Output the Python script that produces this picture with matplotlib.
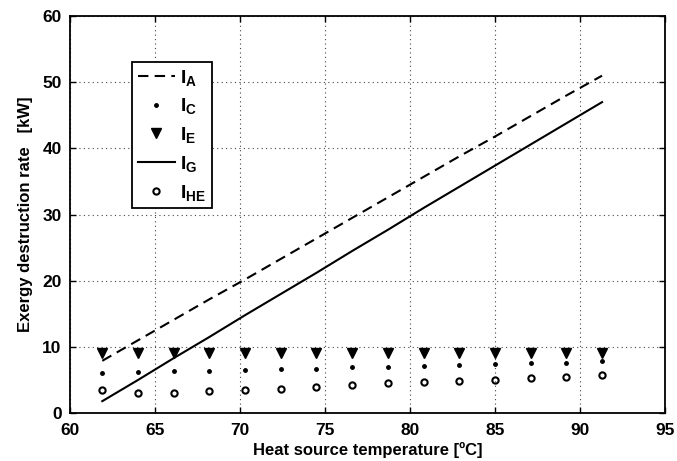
import matplotlib.pyplot as plt

plt.rcParams['font.family'] = 'Liberation Sans'
plt.rcParams['font.weight'] = 'bold'
plt.rcParams['mathtext.fontset'] = 'custom'
plt.rcParams['mathtext.bf'] = 'Liberation Sans:bold'
plt.rcParams['mathtext.rm'] = 'Liberation Sans:bold'

# heat source temperature [ºC]
temp = [61.9, 64.0, 66.1, 68.2, 70.3, 72.4, 74.5, 76.6, 78.7, 80.8, 82.9, 85.0, 87.1, 89.2, 91.3]

# exergy destruction rates [kW]
i_a = [7.9, 11.0, 14.1, 17.2, 20.2, 23.3, 26.4, 29.5, 32.6, 35.7, 38.8, 41.8, 44.9, 48.0, 51.0]
i_c = [6.1, 6.2, 6.3, 6.4, 6.5, 6.6, 6.7, 6.9, 7.0, 7.1, 7.2, 7.4, 7.5, 7.6, 7.8]
i_e = [9.1, 9.1, 9.1, 9.1, 9.1, 9.1, 9.1, 9.1, 9.1, 9.1, 9.1, 9.1, 9.1, 9.1, 9.1]
i_g = [1.8, 5.0, 8.3, 11.5, 14.8, 18.0, 21.2, 24.5, 27.7, 31.0, 34.2, 37.4, 40.6, 43.8, 47.0]
i_he = [3.5, 3.1, 3.1, 3.3, 3.5, 3.7, 4.0, 4.2, 4.5, 4.65, 4.85, 5.0, 5.25, 5.5, 5.75]

fig = plt.figure(figsize=(6.77, 4.61), dpi=100)
ax = fig.add_axes([0.1034, 0.104, 0.8788, 0.861])

ax.plot(temp, i_a, color='black', linestyle='--', linewidth=1.5, dashes=(5, 3),
        label=r'$\mathbf{I_A}$')
ax.plot(temp, i_c, color='black', linestyle='none', marker='.', markersize=5,
        label=r'$\mathbf{I_C}$')
ax.plot(temp, i_e, color='black', linestyle='none', marker='v', markersize=6.5,
        label=r'$\mathbf{I_E}$')
ax.plot(temp, i_g, color='black', linestyle='-', linewidth=1.5,
        label=r'$\mathbf{I_G}$')
ax.plot(temp, i_he, color='black', linestyle='none', marker='o', markersize=4.5,
        markerfacecolor='none', markeredgewidth=1.5, label=r'$\mathbf{I_{HE}}$')

ax.set_xlim(60, 95)
ax.set_ylim(0, 60)
ax.set_xticks([60, 65, 70, 75, 80, 85, 90, 95])
ax.set_yticks([0, 10, 20, 30, 40, 50, 60])
ax.tick_params(direction='in', top=True, right=True, labelsize=12.5, length=4, width=1)
ax.tick_params(axis='x', pad=7)
ax.tick_params(axis='y', pad=6)
for lab in ax.get_xticklabels() + ax.get_yticklabels():
    lab.set_fontweight('bold')
for sp in ax.spines.values():
    sp.set_linewidth(1.3)

ax.grid(True, linestyle=(0, (1, 3)), color='#444444', linewidth=0.8)

ax.set_xlabel('Heat source temperature [ºC]', fontsize=12, fontweight='bold', labelpad=3)
ax.set_ylabel('Exergy destruction rate   [kW]', fontsize=12, fontweight='bold', labelpad=7)

leg = ax.legend(loc='upper left', bbox_to_anchor=(0.104, 0.885), fontsize=14,
                frameon=True, fancybox=False, handlelength=1.9, borderpad=0.3,
                labelspacing=0.45, handletextpad=0.3, borderaxespad=0)
leg.get_frame().set_edgecolor('black')
leg.get_frame().set_linewidth(1.3)
leg.get_frame().set_alpha(1)

fig.savefig('out.png', dpi=100)
